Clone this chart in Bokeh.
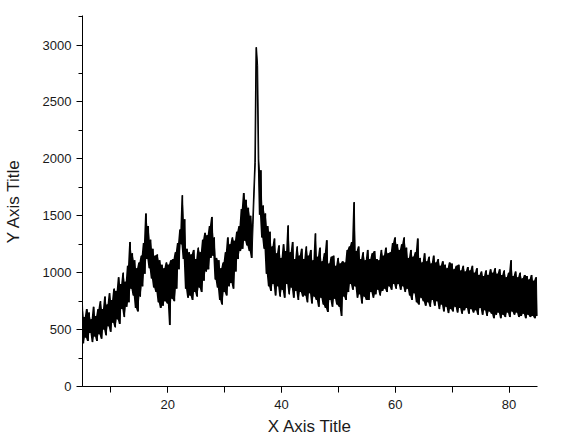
import numpy as np
from bokeh.plotting import figure
from bokeh.models import SingleIntervalTicker, Range1d
from bokeh.embed import file_html
from bokeh.resources import INLINE

# 2-theta start and step (degrees)
two_theta_start = 5.0
two_theta_step = 0.2

# intensity, one row per degree (5 samples each)
counts = [
    720, 380, 610, 430, 680,    # 5
    400, 650, 470, 590, 390,    # 6
    700, 440, 620, 400, 680,    # 7
    460, 750, 420, 680, 500,    # 8
    790, 450, 720, 530, 820,    # 9
    480, 760, 560, 860, 520,    # 10
    840, 590, 960, 550, 900,    # 11
    680, 1000, 610, 920, 700,   # 12
    1060, 740, 1270, 860, 1170, # 13
    800, 1110, 690, 1040, 660,  # 14
    1090, 790, 1150, 880, 1260, # 15
    990, 1520, 1120, 1410, 1040, # 16
    1290, 950, 1210, 870, 1150, # 17
    830, 1160, 740, 1110, 690,  # 18
    1070, 710, 1040, 750, 1090, # 19
    730, 1070, 540, 1110, 770,  # 20
    1120, 750, 1180, 860, 1260, # 21
    1030, 1380, 1250, 1680, 1120, # 22
    1470, 860, 1210, 780, 1180, # 23
    800, 1160, 760, 1200, 830,  # 24
    1120, 790, 1220, 870, 1180, # 25
    830, 1290, 930, 1350, 1010, # 26
    1330, 1030, 1410, 1130, 1490, # 27
    1150, 1310, 940, 1130, 870, # 28
    1110, 760, 1040, 720, 1090, # 29
    830, 1180, 800, 1310, 880,  # 30
    1250, 910, 1310, 860, 1280, # 31
    1010, 1360, 1120, 1410, 1190, # 32
    1560, 1210, 1700, 1280, 1640, # 33
    1240, 1570, 1190, 1500, 1130, # 34
    1420, 1700, 1970, 2980, 2820, # 35
    2000, 1510, 1900, 1310, 1590, # 36
    1210, 1520, 990, 1410, 880, # 37
    1360, 840, 1230, 900, 1300, # 38
    800, 1170, 880, 1240, 790,  # 39
    1130, 850, 1250, 780, 1190, # 40
    900, 1415, 810, 1180, 870,  # 41
    1270, 780, 1120, 840, 1230, # 42
    760, 1150, 830, 1210, 790,  # 43
    1120, 800, 1230, 740, 1150, # 44
    820, 1200, 730, 1110, 790,  # 45
    1345, 760, 1140, 700, 1220, # 46
    780, 1100, 720, 1170, 690,  # 47
    1285, 655, 1080, 760, 1140, # 48
    700, 1150, 770, 1060, 720,  # 49
    1130, 700, 1080, 620, 1100, # 50
    790, 1090, 760, 1200, 830,  # 51
    1230, 900, 1270, 850, 1620, # 52
    880, 1190, 780, 1230, 810,  # 53
    1120, 730, 1180, 790, 1110, # 54
    760, 1200, 760, 1120, 830,  # 55
    1170, 780, 1190, 810, 1120, # 56
    850, 1110, 800, 1200, 840,  # 57
    1150, 860, 1220, 830, 1170, # 58
    880, 1180, 850, 1260, 900,  # 59
    1310, 860, 1250, 900, 1200, # 60
    850, 1250, 880, 1310, 830,  # 61
    1220, 860, 1130, 800, 1200, # 62
    760, 1140, 820, 1180, 740,  # 63
    1300, 720, 1130, 780, 1090, # 64
    750, 1170, 710, 1100, 740,  # 65
    1140, 700, 1080, 760, 1150, # 66
    710, 1090, 750, 1120, 680,  # 67
    1060, 720, 1100, 660, 1070, # 68
    700, 1040, 645, 1090, 680,  # 69
    1080, 660, 1030, 700, 1060, # 70
    650, 1070, 690, 1020, 640,  # 71
    1060, 670, 1010, 690, 1050, # 72
    640, 1020, 680, 1060, 650,  # 73
    1000, 670, 1040, 630, 980,  # 74
    690, 1010, 630, 970, 670,   # 75
    1020, 620, 980, 660, 1030,  # 76
    640, 1000, 600, 1040, 630,  # 77
    990, 650, 1030, 600, 980,   # 78
    630, 1020, 610, 960, 650,   # 79
    1000, 610, 1110, 660, 970,  # 80
    630, 1010, 650, 960, 610,   # 81
    1000, 620, 950, 640, 980,   # 82
    600, 970, 630, 940, 610,    # 83
    980, 620, 930, 600, 960,    # 84
    620,                        # 85
]
two_theta = two_theta_start + two_theta_step * np.arange(len(counts))

# band covered by the dense noise: min / max of each pair of neighbouring samples
c = np.array(counts, dtype=float)
next_c = np.concatenate([c[1:], c[-1:]])
band_lo = np.minimum(c, next_c)
band_hi = np.maximum(c, next_c)

x_title = "X Axis Title"
y_title = "Y Axis Title"

p = figure(width=581, height=438, output_backend="svg", toolbar_location=None,
           x_range=Range1d(5, 85), y_range=Range1d(0, 3260),
           min_border_left=80, min_border_right=44, min_border_top=15,
           min_border_bottom=52)
p.outline_line_color = None
p.grid.visible = False
p.background_fill_color = "white"
p.border_fill_color = "white"

p.varea(x=two_theta, y1=band_lo, y2=band_hi, fill_color="black")
p.line(two_theta, counts, line_color="black", line_width=1)

font = "Liberation Sans"
p.xaxis.ticker = SingleIntervalTicker(interval=20, num_minor_ticks=2)
p.yaxis.ticker = SingleIntervalTicker(interval=500, num_minor_ticks=2)
for ax in (p.xaxis[0], p.yaxis[0]):
    ax.axis_line_color = "black"
    ax.major_tick_line_color = "black"
    ax.minor_tick_line_color = "black"
    ax.major_tick_in = 0
    ax.minor_tick_in = 0
    ax.major_tick_out = 6
    ax.major_label_text_font = font
    ax.major_label_text_font_size = "13px"
    ax.major_label_text_color = "#1a1a1a"
    ax.axis_label_text_font = font
    ax.axis_label_text_font_size = "17px"
    ax.axis_label_text_font_style = "normal"
    ax.axis_label_text_color = "#1a1a1a"
p.xaxis.minor_tick_out = 6
p.yaxis.minor_tick_out = 4
p.xaxis.major_label_standoff = 7
p.yaxis.major_label_standoff = 5
p.xaxis.axis_label = x_title
p.yaxis.axis_label = y_title
p.xaxis.axis_label_standoff = 5
p.yaxis.axis_label_standoff = 17

open("out.html", "w").write(file_html(p, INLINE))
